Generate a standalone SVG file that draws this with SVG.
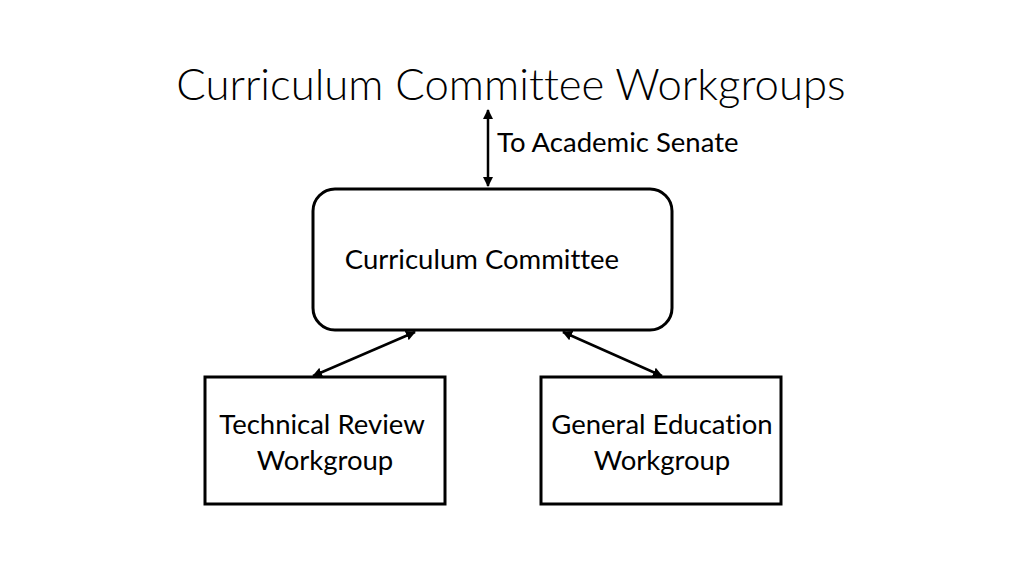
<svg xmlns="http://www.w3.org/2000/svg" width="1024" height="576" viewBox="0 0 1024 576">
<style>
text{font-family:Lato,"Open Sans","Liberation Sans",sans-serif;fill:#000;font-variant-ligatures:none}
.t{font-size:43.7px;font-weight:300}
.l{font-size:27.5px}
.box{fill:#fff;stroke:#000;stroke-width:3}
.c{stroke:#000;stroke-width:2.5;fill:none}
</style>
<defs>
<marker id="ah" viewBox="0 0 10 10" refX="9" refY="5" markerWidth="4" markerHeight="4" orient="auto-start-reverse" markerUnits="strokeWidth">
<path d="M0,0 L10,5 L0,10 Z" fill="#000"/>
</marker>
</defs>
<rect width="1024" height="576" fill="#fff"/>
<text class="t" x="511" y="100" text-anchor="middle">Curriculum Committee Workgroups</text>
<g id="connectors">
<line class="c" x1="488" y1="110" x2="488" y2="186" marker-start="url(#ah)" marker-end="url(#ah)"/>
<line class="c" x1="415" y1="332" x2="313" y2="376" marker-start="url(#ah)" marker-end="url(#ah)"/>
<line class="c" x1="563" y1="332" x2="662" y2="376" marker-start="url(#ah)" marker-end="url(#ah)"/>
<text class="l" x="497" y="152">To Academic Senate</text>
</g>
<g id="curriculum-committee">
<rect class="box" x="313" y="189" width="359" height="141" rx="22"/>
<text class="l" x="482" y="269" text-anchor="middle">Curriculum Committee</text>
</g>
<g id="technical-review">
<rect class="box" x="205" y="377" width="240" height="127"/>
<text class="l" x="322" y="434" text-anchor="middle">Technical Review</text>
<text class="l" x="325" y="470" text-anchor="middle">Workgroup</text>
</g>
<g id="general-education">
<rect class="box" x="541" y="377" width="240" height="127"/>
<text class="l" x="662" y="434" text-anchor="middle">General Education</text>
<text class="l" x="662" y="470" text-anchor="middle">Workgroup</text>
</g>
</svg>
